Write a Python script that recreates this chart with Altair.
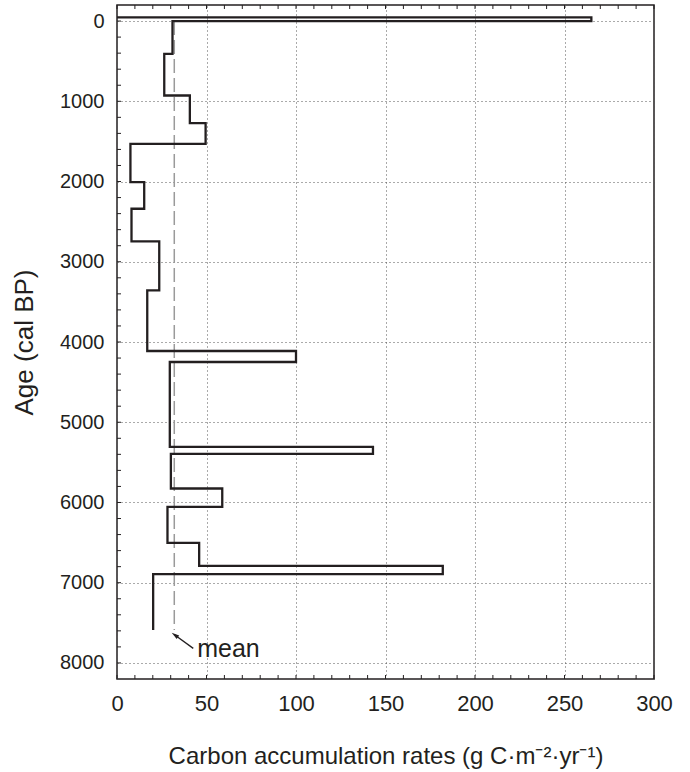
import altair as alt
import pandas as pd

# Step boundaries (cal BP) and carbon accumulation rates between them
boundaries = [-45, 0, 410, 928, 1272, 1530, 2007, 2339, 2746, 3356, 4112, 4249,
              5307, 5395, 5826, 6055, 6503, 6789, 6893, 7590]
rates = [265, 31, 26.4, 40.7, 49.5, 7.5, 15.2, 8.1, 23.6, 16.9, 100, 29.5,
         143, 30.1, 58.8, 28.2, 45.9, 182, 20.2]
start_rate = 0

mean_rate = 32
mean_span = [0, 7590]

arrow_tail = [42.6, 7818]
arrow_head = [32.3, 7652]
label_pos = [44.8, 7925]
label_text = "mean"

x_major = [0, 50, 100, 150, 200, 250, 300]
y_major = [0, 1000, 2000, 3000, 4000, 5000, 6000, 7000, 8000]
x_minor = list(range(0, 301, 10))
y_minor = list(range(0, 8001, 200))

W, H = 537, 674
INK = "#231f20"
FONT = "Liberation Sans"

# path rows
rows = [{"i": 0, "rate": start_rate, "age": boundaries[0]}]
k = 1
for j, r in enumerate(rates):
    rows.append({"i": k, "rate": r, "age": boundaries[j]}); k += 1
    rows.append({"i": k, "rate": r, "age": boundaries[j + 1]}); k += 1
path = pd.DataFrame(rows)

xscale = alt.Scale(domain=[0, 300], nice=False, zero=False)
yscale = alt.Scale(domain=[-200, 8200], nice=False, zero=False, reverse=True)

xaxis = alt.Axis(values=x_major, ticks=False, domain=False, grid=True, format="d",
                 gridDash=[1, 3], gridColor="#555555", gridWidth=1,
                 labelFontSize=22, labelPadding=14, labelColor=INK, labelFont=FONT,
                 title="Carbon accumulation rates (g C·m⁻²·yr⁻¹)",
                 titleFontSize=24, titleFont=FONT, titleFontWeight="normal",
                 titleColor=INK, titlePadding=30, labelFlush=False)
yaxis = alt.Axis(values=y_major, ticks=False, domain=False, grid=True, format="d",
                 gridDash=[1, 3], gridColor="#555555", gridWidth=1,
                 labelFontSize=20, labelPadding=13, labelColor=INK, labelFont=FONT,
                 title="Age (cal BP)", titleFontSize=26, titleFont=FONT,
                 titleFontWeight="normal", titleColor=INK, titlePadding=22,
                 labelFlush=False)


def X(f="rate:Q"):
    return alt.X(f, scale=xscale, axis=xaxis)


def Y(f="age:Q"):
    return alt.Y(f, scale=yscale, axis=yaxis)


line = alt.Chart(path).mark_line(color=INK, strokeWidth=2.3, strokeJoin="miter").encode(
    x=X(), y=Y(), order="i:Q",
)

mean_df = pd.DataFrame({"rate": [mean_rate], "age": [mean_span[0]], "age2": [mean_span[1]]})
mean_line = alt.Chart(mean_df).mark_rule(color="#9a9a9a", strokeWidth=1.5,
                                         strokeDash=[14, 5]).encode(
    x=X(), y=Y(), y2="age2:Q")

arrow_df = pd.DataFrame({"rate": [arrow_tail[0]], "age": [arrow_tail[1]],
                         "rate2": [arrow_head[0]], "age2": [arrow_head[1]]})
arrow = alt.Chart(arrow_df).mark_rule(color=INK, strokeWidth=1.3).encode(
    x=X(), y=Y(), x2="rate2:Q", y2="age2:Q")

head_df = pd.DataFrame({"rate": [arrow_head[0]], "age": [arrow_head[1]]})
head = alt.Chart(head_df).mark_point(shape="M0,-1L0.55,1L-0.55,1Z", filled=True,
                                     color=INK, opacity=1, size=60, angle=306).encode(
    x=X(), y=Y())

text_df = pd.DataFrame({"rate": [label_pos[0]], "age": [label_pos[1]], "t": [label_text]})
text = alt.Chart(text_df).mark_text(align="left", baseline="alphabetic", fontSize=25,
                                    font=FONT, color=INK).encode(
    x=X(), y=Y(), text="t:N")

xm = pd.DataFrame({"rate": x_minor})
ym = pd.DataFrame({"age": y_minor})
bottom_ticks = alt.Chart(xm).mark_rule(color=INK, strokeWidth=1).encode(
    x=X(), y=alt.value(H), y2=alt.value(H - 4))
top_ticks = alt.Chart(xm).mark_rule(color=INK, strokeWidth=1).encode(
    x=X(), y=alt.value(0), y2=alt.value(4))
left_ticks = alt.Chart(ym).mark_rule(color=INK, strokeWidth=1).encode(
    y=Y(), x=alt.value(0), x2=alt.value(4))

chart = alt.layer(
    mean_line, bottom_ticks, top_ticks, left_ticks, line, arrow, head, text
).properties(
    width=W, height=H,
    autosize=alt.AutoSizeParams(type="none"),
    padding={"left": 117, "top": 5, "right": 36, "bottom": 93},
    background="white",
).configure_view(
    stroke=INK, strokeWidth=1.5
)

chart.save("out.html", embed_options={"renderer": "svg", "actions": False})
